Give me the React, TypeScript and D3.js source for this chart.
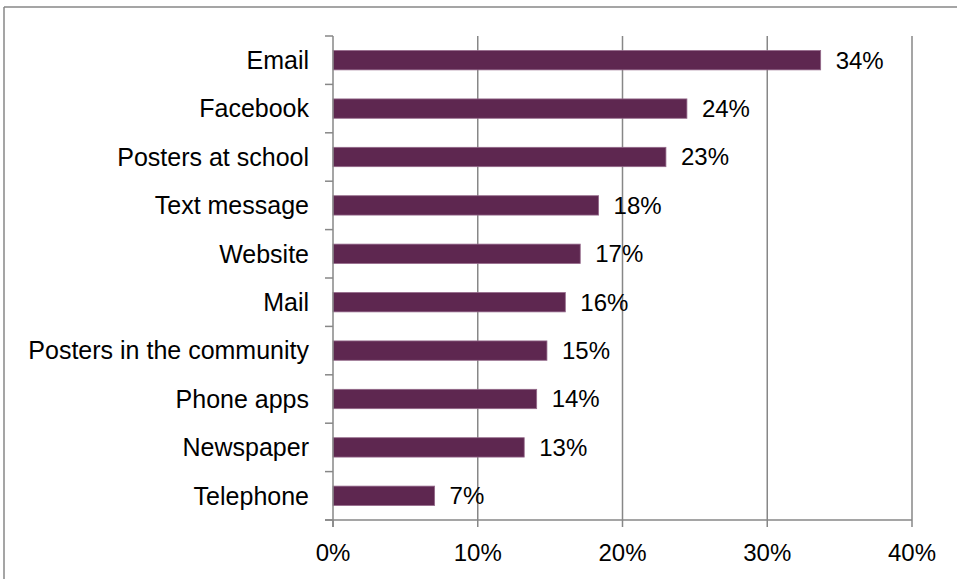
import React from "react";
import * as d3 from "d3";

const categories = [
  "Email",
  "Facebook",
  "Posters at school",
  "Text message",
  "Website",
  "Mail",
  "Posters in the community",
  "Phone apps",
  "Newspaper",
  "Telephone",
];
const values = [33.69, 24.45, 23.0, 18.35, 17.08, 16.05, 14.78, 14.07, 13.21, 7.02];
const xTicks = [0, 10, 20, 30, 40];

const W = 957;
const H = 579;
const M = { left: 333, right: 45, top: 36, bottom: 59 };
const FONT = "'Liberation Sans', Arial, sans-serif";

export default function App() {
  const x = d3.scaleLinear().domain([0, 40]).range([M.left, W - M.right]);
  const y = d3
    .scaleBand<string>()
    .domain(categories)
    .range([M.top, H - M.bottom])
    .paddingInner(0.6)
    .paddingOuter(0.3);
  const yEdges = d3.scaleLinear().domain([0, categories.length]).range([M.top, H - M.bottom]);
  const axisY = H - M.bottom;
  const grey = "#878787";

  return (
    <svg
      width={W}
      height={H}
      style={{ position: "absolute", left: 0, top: 0, background: "#fff" }}
      fontFamily={FONT}
    >
      <rect x={0} y={0} width={W} height={H} fill="#fff" />
      {/* outer frame */}
      <line x1={4} y1={7} x2={W} y2={7} stroke={grey} strokeWidth={1.5} />
      <line x1={4} y1={7} x2={4} y2={H} stroke={grey} strokeWidth={1.5} />

      {/* gridlines */}
      {xTicks.slice(1).map((t) => (
        <line key={t} x1={x(t)} x2={x(t)} y1={M.top} y2={axisY} stroke={grey} strokeWidth={1.5} />
      ))}

      {/* bars */}
      {categories.map((c, i) => (
        <rect
          key={c}
          x={x(0)}
          y={y(c)}
          width={x(values[i]) - x(0)}
          height={y.bandwidth()}
          fill="#5E2750"
          stroke="#94698a"
          strokeWidth={0.8}
        />
      ))}

      {/* y axis */}
      <line x1={x(0)} x2={x(0)} y1={M.top} y2={axisY + 7} stroke={grey} strokeWidth={1.5} />
      {d3.range(categories.length + 1).map((k) => (
        <line key={k} x1={x(0) - 8} x2={x(0)} y1={yEdges(k)} y2={yEdges(k)} stroke={grey} strokeWidth={1.5} />
      ))}
      {/* x axis */}
      <line x1={x(0) - 8} x2={x(40)} y1={axisY} y2={axisY} stroke={grey} strokeWidth={1.5} />
      {xTicks.map((t) => (
        <line key={t} x1={x(t)} x2={x(t)} y1={axisY} y2={axisY + 7} stroke={grey} strokeWidth={1.5} />
      ))}

      {/* category labels */}
      {categories.map((c) => (
        <text
          key={c}
          x={309}
          y={(y(c) as number) + y.bandwidth() / 2}
          dy="0.35em"
          textAnchor="end"
          fontSize={25}
          fill="#000"
        >
          {c}
        </text>
      ))}

      {/* value labels */}
      {categories.map((c, i) => (
        <text
          key={c}
          x={x(values[i]) + 15}
          y={(y(c) as number) + y.bandwidth() / 2}
          dy="0.35em"
          fontSize={24}
          fill="#000"
        >
          {Math.round(values[i])}%
        </text>
      ))}

      {/* x tick labels */}
      {xTicks.map((t) => (
        <text key={t} x={x(t)} y={561} textAnchor="middle" fontSize={24} fill="#000">
          {t}%
        </text>
      ))}
    </svg>
  );
}
